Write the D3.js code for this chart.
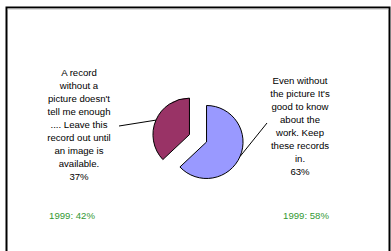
<!DOCTYPE html>
<html>
<head>
<meta charset="utf-8">
<script src="https://cdn.jsdelivr.net/npm/d3@7"></script>
<style>
  body { margin: 0; background: #fff; }
  svg text { font-family: "Liberation Sans", Arial, sans-serif; }
</style>
</head>
<body>
<div id="chart"></div>
<script>
// pie slices, in drawing order (clockwise from 12 o'clock)
var categories = [
  ["Even without", "the picture It's", "good to know", "about the", "work. Keep", "these records", "in."],
  ["A record", "without a", "picture doesn't", "tell me enough", ".... Leave this", "record out until", "an image is", "available."]
];
var values = [63, 37];
var sliceColors = ["#9999ff", "#993366"];
var yearLabels = ["1999: 58%", "1999: 42%"];

var w = 391, h = 251;
var cx = 198, cy = 138.3, radius = 36.5, explode = 9.3;
var lineH = 13;
// label block positions (center x, first line y) and leader ends
var labelPos = [{x: 300, y: 80, lx: 267, ly: 123}, {x: 79, y: 72.7, lx: 119, ly: 126}];
var yearPos = [{x: 306, y: 219}, {x: 72, y: 219}];

var svg = d3.select("#chart").append("svg")
    .attr("width", w)
    .attr("height", h);

// frame
svg.append("path")
    .attr("d", "M6.5,260 V7.5 H389.5 V260")
    .attr("fill", "none")
    .attr("stroke", "#000")
    .attr("stroke-width", 2);
svg.append("line")
    .attr("x1", 7.5).attr("x2", 388.5)
    .attr("y1", 9).attr("y2", 9)
    .attr("stroke", "#bbb")
    .attr("stroke-width", 1);

var pie = d3.pie().sort(null).value(function(d) { return d; });
var arcs = pie(values);
var arc = d3.arc().innerRadius(0).outerRadius(radius);

var g = svg.append("g").attr("transform", "translate(" + cx + "," + cy + ")");

function offset(d, r) {
  var a = (d.startAngle + d.endAngle) / 2;
  return [Math.sin(a) * r, -Math.cos(a) * r];
}

g.selectAll("path.slice")
    .data(arcs)
    .enter()
    .append("path")
    .attr("class", "slice")
    .attr("d", arc)
    .attr("transform", function(d) {
      var o = offset(d, explode);
      return "translate(" + o[0] + "," + o[1] + ")";
    })
    .attr("fill", function(d, i) { return sliceColors[i]; })
    .attr("stroke", "#000")
    .attr("stroke-width", 1);

// leader lines
g.selectAll("line.leader")
    .data(arcs)
    .enter()
    .append("line")
    .attr("class", "leader")
    .attr("x1", function(d) { return offset(d, explode + radius)[0]; })
    .attr("y1", function(d) { return offset(d, explode + radius)[1]; })
    .attr("x2", function(d, i) { return labelPos[i].lx - cx; })
    .attr("y2", function(d, i) { return labelPos[i].ly - cy; })
    .attr("stroke", "#000")
    .attr("stroke-width", 1);

// slice labels
categories.forEach(function(lines, i) {
  var t = svg.append("text")
      .attr("text-anchor", "middle")
      .attr("font-size", "9.6px")
      .attr("fill", "#000");
  lines.concat([values[i] + "%"]).forEach(function(s, j) {
    t.append("tspan")
        .attr("x", labelPos[i].x)
        .attr("y", labelPos[i].y + j * lineH + 3.5)
        .text(s);
  });
});

svg.selectAll("text.year")
    .data(yearLabels)
    .enter()
    .append("text")
    .attr("class", "year")
    .attr("x", function(d, i) { return yearPos[i].x; })
    .attr("y", function(d, i) { return yearPos[i].y; })
    .attr("text-anchor", "middle")
    .attr("font-size", "9.6px")
    .attr("fill", "#339933")
    .text(function(d) { return d; });
</script>
</body>
</html>
